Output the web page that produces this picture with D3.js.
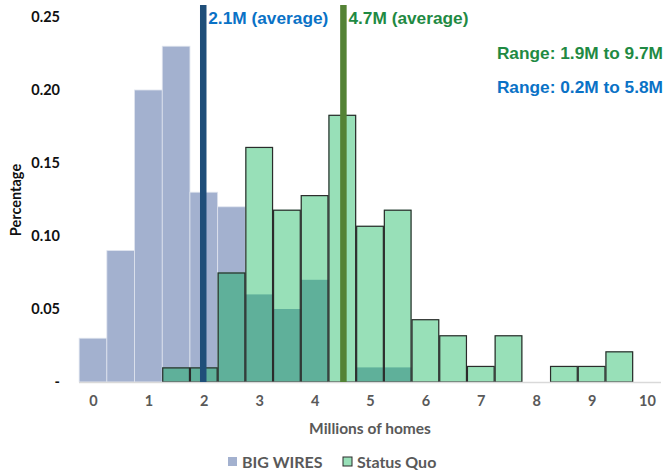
<!DOCTYPE html>
<html><head><meta charset="utf-8">
<script src="https://cdn.jsdelivr.net/npm/d3@7"></script>
<style>
html,body{margin:0;padding:0;background:#fff;}
svg{display:block;}
</style></head>
<body>
<svg id="chart" width="665" height="475"></svg>
<script>
// ---- data ----
const binCenters = [0,0.5,1,1.5,2,2.5,3,3.5,4,4.5,5,5.5,6,6.5,7,7.5,8,8.5,9,9.5];
const bigWires   = [0.03,0.09,0.20,0.23,0.13,0.12,0.06,0.05,0.07,0,0.01,0.01,0,0,0,0,0,0,0,0];
const statusQuo  = [0,0,0,0.01,0.01,0.075,0.161,0.118,0.128,0.183,0.107,0.118,0.043,0.032,0.011,0.032,0,0.011,0.011,0.021];
const xTicks = [0,1,2,3,4,5,6,7,8,9,10];
const yTicks = [0,0.05,0.10,0.15,0.20,0.25];
const yTickLabels = ["-","0.05","0.10","0.15","0.20","0.25"];
const avgLines = [
  {name:"BIG WIRES", pos:1.99, label:"2.1M (average)"},
  {name:"Status Quo", pos:4.52, label:"4.7M (average)"}
];
const rangeLabels = ["Range: 1.9M to 9.7M","Range: 0.2M to 5.8M"];
const seriesNames = ["BIG WIRES","Status Quo"];
const binWidth = 0.5;

// ---- styles ----
const C = {blue:"#a3b1cf", green:"#98e0b8", overlap:"#5fb09a", stroke:"#2b2b2b",
  blueLine:"#1f4e79", greenLine:"#548235", blueText:"#0a72c6", greenText:"#1f8a43", gray:"#595959"};

const svg = d3.select("#chart");
const x = d3.scaleLinear().domain([0,10]).range([93,647]);
const y = d3.scaleLinear().domain([0,0.25]).range([382,17]);

const bins = binCenters.map((c,i)=>({c, b:bigWires[i], g:statusQuo[i]}));
const bx = d=>x(d.c-binWidth/2), bw = d=>x(d.c+binWidth/2)-x(d.c-binWidth/2);

// BIG WIRES bars
svg.append("g").selectAll("rect").data(bins.filter(d=>d.b>0)).join("rect")
  .attr("x", bx).attr("width", bw)
  .attr("y", d=>y(d.b)).attr("height", d=>y(0)-y(d.b))
  .attr("fill", C.blue).attr("stroke","#dfe4ee").attr("stroke-width",0.8);

// Status Quo fill
svg.append("g").selectAll("rect").data(bins.filter(d=>d.g>0)).join("rect")
  .attr("x", bx).attr("width", bw)
  .attr("y", d=>y(d.g)).attr("height", d=>y(0)-y(d.g))
  .attr("fill", C.green);

// overlap
svg.append("g").selectAll("rect").data(bins.filter(d=>Math.min(d.b,d.g)>0)).join("rect")
  .attr("x", bx).attr("width", bw)
  .attr("y", d=>y(Math.min(d.b,d.g))).attr("height", d=>y(0)-y(Math.min(d.b,d.g)))
  .attr("fill", C.overlap);

// Status Quo outlines
svg.append("g").selectAll("rect").data(bins.filter(d=>d.g>0)).join("rect")
  .attr("x", d=>bx(d)+0.5).attr("width", d=>bw(d)-1)
  .attr("y", d=>y(d.g)+0.5).attr("height", d=>y(0)-y(d.g)-0.5)
  .attr("fill","none").attr("stroke", C.stroke).attr("stroke-width",1.2);

// baseline
svg.append("line").attr("x1",79).attr("x2",661).attr("y1",y(0)+0.5).attr("y2",y(0)+0.5)
  .attr("stroke","#d9d9d9").attr("stroke-width",1.5);

// average lines
svg.append("g").selectAll("line").data(avgLines).join("line")
  .attr("x1", d=>x(d.pos)).attr("x2", d=>x(d.pos))
  .attr("y1", 5).attr("y2", y(0))
  .attr("stroke", (d,i)=> i===0?C.blueLine:C.greenLine).attr("stroke-width",6.5);

// average labels
svg.append("g").selectAll("text").data(avgLines).join("text")
  .attr("x", d=>x(d.pos)+5).attr("y", 24)
  .attr("font-family","Liberation Sans, Arial, sans-serif").attr("font-weight","bold").attr("font-size",17.3)
  .attr("fill", (d,i)=> i===0?C.blueText:C.greenText)
  .text(d=>d.label);

// range labels
svg.append("g").selectAll("text").data(rangeLabels).join("text")
  .attr("x", 663).attr("y", (d,i)=> 59 + i*34)
  .attr("text-anchor","end")
  .attr("font-family","Liberation Sans, Arial, sans-serif").attr("font-weight","bold").attr("font-size",17.3)
  .attr("fill", (d,i)=> i===0?C.greenText:C.blueText)
  .text(d=>d);

// y axis
const yAxis = d3.axisLeft(y).tickValues(yTicks).tickFormat((d,i)=>yTickLabels[i]).tickSize(0).tickPadding(0);
const yg = svg.append("g").attr("transform","translate(60,0)").call(yAxis);
yg.select(".domain").remove();
yg.selectAll("text").attr("font-family","Lato, sans-serif").attr("font-weight","bold").attr("font-size",14.5).attr("fill","#111");

// x axis
const xAxis = d3.axisBottom(x).tickValues(xTicks).tickFormat(d3.format("d")).tickSize(0).tickPadding(0);
const xg = svg.append("g").attr("transform","translate(0,396)").call(xAxis);
xg.select(".domain").remove();
xg.selectAll("text").attr("font-family","Lato, sans-serif").attr("font-weight","bold").attr("font-size",14.5).attr("fill",C.gray);

// axis titles
svg.append("text").attr("transform","translate(21,200) rotate(-90)").attr("text-anchor","middle")
  .attr("font-family","Lato, sans-serif").attr("font-weight","bold").attr("font-size",14.5).attr("fill","#111")
  .text("Percentage");
svg.append("text").attr("x",370).attr("y",434).attr("text-anchor","middle")
  .attr("font-family","Lato, sans-serif").attr("font-weight","bold").attr("font-size",15.5).attr("fill",C.gray)
  .text("Millions of homes");

// legend
const leg = svg.append("g").attr("font-family","Lato, sans-serif").attr("font-weight","bold").attr("font-size",16).attr("fill",C.gray);
const legItems = [{name:seriesNames[0], x:228, fill:C.blue, stroke:"none"},{name:seriesNames[1], x:343, fill:C.green, stroke:C.stroke}];
legItems.forEach(d=>{
  leg.append("rect").attr("x",d.x).attr("y",457).attr("width",9).attr("height",9)
    .attr("fill",d.fill).attr("stroke",d.stroke).attr("stroke-width",1);
  leg.append("text").attr("x",d.x+14).attr("y",468).text(d.name);
});
</script>
</body></html>
